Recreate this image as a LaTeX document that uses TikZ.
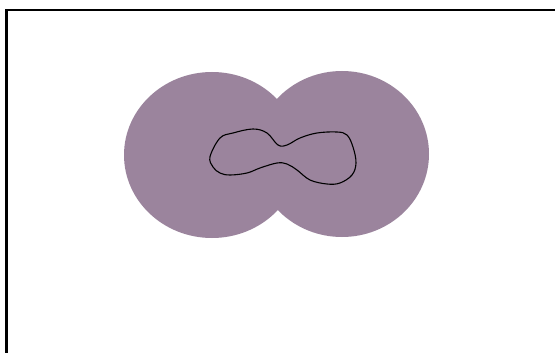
\documentclass[tikz,border=0pt]{standalone}
\definecolor{blobfill}{RGB}{155,132,157}
\tikzset{disc/.style={fill=blobfill,draw=none}, outline/.style={draw=black,line width=1.1pt}}
\begin{document}
\begin{tikzpicture}[x=1pt,y=-1pt]
\useasboundingbox (0,0) rectangle (555,353);
\begin{scope}
\clip (0,0) rectangle (555,353);
\fill[white] (0,0) rectangle (555,353);
\draw[line width=2.4pt] (6.5,10) rectangle (570,370);
\fill[disc] (212,155) ellipse [x radius=88, y radius=83];
\fill[disc] (342,154) ellipse [x radius=87, y radius=83];
\draw[outline] plot[smooth cycle, tension=0.6] coordinates {
(210,156.7) (220,138) (233,133) (253,129) (267,133) (278,145) (287,145)
(300,138) (317,133) (337,132) (347,135) (353,147) (356,163) (352,175)
(340,183) (327,184) (310,180) (297,170) (287,164) (277,163) (260,168)
(247,173) (230,175) (220,173) (213,167)};
\end{scope}
\end{tikzpicture}
\end{document}
